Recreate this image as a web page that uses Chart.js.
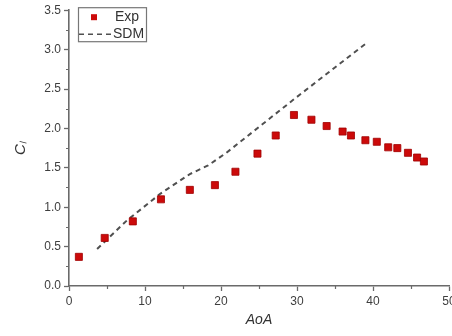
<!DOCTYPE html>
<html>
<head>
<meta charset="utf-8">
<script src="https://cdn.jsdelivr.net/npm/chart.js@4/dist/chart.umd.min.js"></script>
<style>
  html, body { margin: 0; padding: 0; overflow: hidden; background: #fff; }
  #wrap { position: relative; width: 460px; height: 336px; }
</style>
</head>
<body>
<div id="wrap"><canvas id="c"></canvas></div>
<script>
// ---- data ----
const expAoA = [1.3, 4.7, 8.4, 12.1, 15.9, 19.2, 21.9, 24.8, 27.2, 29.6, 31.9, 33.9, 36.0, 37.1, 39.0, 40.5, 42.0, 43.2, 44.6, 45.8, 46.7];
const expCl  = [0.37, 0.61, 0.82, 1.10, 1.22, 1.28, 1.45, 1.68, 1.91, 2.17, 2.11, 2.03, 1.96, 1.91, 1.85, 1.83, 1.76, 1.75, 1.69, 1.63, 1.58];
const sdmAoA = [3.7, 7.6, 12.0, 15.9, 18.3, 20.7, 29.6, 39.1];
const sdmCl  = [0.47, 0.83, 1.17, 1.42, 1.53, 1.69, 2.37, 3.08];
const xTicks = [0, 10, 20, 30, 40, 50];
const yTicks = [0.0, 0.5, 1.0, 1.5, 2.0, 2.5, 3.0, 3.5];
const seriesNames = ['Exp', 'SDM'];
const xTitle = 'AoA';
const yTitle = 'C\u2097';

const axisColor = '#6a6a6a';
const labelColor = '#3e3e3e';
const font = 'Liberation Sans, Arial, sans-serif';

const minorTicks = {
  id: 'minorTicks',
  afterDraw(chart) {
    const ctx = chart.ctx;
    const xs = chart.scales.x, ys = chart.scales.y;
    ctx.save();
    ctx.strokeStyle = axisColor;
    ctx.lineWidth = 1.2;
    ctx.beginPath();
    for (let v = xs.min + 5; v < xs.max; v += 10) {
      const px = Math.round(xs.getPixelForValue(v)) + 0.5;
      ctx.moveTo(px, xs.top);
      ctx.lineTo(px, xs.top + 3);
    }
    for (let v = ys.min + 0.25; v < ys.max; v += 0.5) {
      const py = Math.round(ys.getPixelForValue(v)) + 0.5;
      ctx.moveTo(ys.right, py);
      ctx.lineTo(ys.right - 3, py);
    }
    ctx.stroke();
    ctx.restore();
  }
};

const boxLegend = {
  id: 'boxLegend',
  afterDraw(chart) {
    const ctx = chart.ctx;
    const a = chart.chartArea;
    const L = a.left + 9, T = a.top - 3, W = 68, H = 34;
    const ds = chart.data.datasets;
    ctx.save();
    ctx.strokeStyle = '#777';
    ctx.lineWidth = 1.2;
    ctx.strokeRect(L + 0.5, T + 0.5, W, H);
    ctx.font = '14px ' + font;
    ctx.textBaseline = 'middle';
    // Exp
    const y1 = T + 10;
    ctx.fillStyle = ds[0].backgroundColor;
    ctx.fillRect(L + 13, y1 - 3, 6, 6);
    ctx.fillStyle = '#333';
    ctx.fillText(ds[0].label, L + 37, y1);
    // SDM
    const y2 = T + 27;
    ctx.strokeStyle = ds[1].borderColor;
    ctx.lineWidth = 1.5;
    ctx.setLineDash([5, 4]);
    ctx.beginPath();
    ctx.moveTo(L + 1, y2);
    ctx.lineTo(L + 33, y2);
    ctx.stroke();
    ctx.setLineDash([]);
    ctx.fillText(ds[1].label, L + 35, y2);
    ctx.restore();
  }
};

new Chart(document.getElementById('c'), {
  type: 'scatter',
  data: {
    datasets: [
      {
        label: seriesNames[0],
        data: expAoA.map((x, i) => ({ x: x, y: expCl[i] })),
        pointStyle: 'rect',
        pointRadius: 5,
        backgroundColor: '#cc0a0a',
        borderColor: '#a00000',
        borderWidth: 0.8,
        showLine: false,
        order: 0
      },
      {
        label: seriesNames[1],
        data: sdmAoA.map((x, i) => ({ x: x, y: sdmCl[i] })),
        showLine: true,
        pointRadius: 0,
        borderColor: '#505050',
        borderWidth: 2,
        borderDash: [5, 4],
        tension: 0,
        fill: false,
        order: 1
      }
    ]
  },
  options: {
    responsive: true,
    maintainAspectRatio: false,
    animation: false,
    devicePixelRatio: 1,
    layout: { padding: { left: 0, top: 8, right: 11, bottom: 0 } },
    plugins: {
      legend: { display: false },
      tooltip: { enabled: false }
    },
    scales: {
      x: {
        type: 'linear',
        min: 0, max: 50,
        afterFit(s) { s.height = 50; },
        afterBuildTicks(s) { s.ticks = xTicks.map(v => ({ value: v })); },
        border: { display: true, color: axisColor, width: 1.6 },
        grid: { drawOnChartArea: false, drawTicks: true, tickLength: 5, color: axisColor, tickColor: axisColor, tickWidth: 1.3 },
        ticks: {
          padding: 3,
          color: labelColor,
          font: { family: font, size: 12 },
          maxRotation: 0,
          autoSkip: false,
          callback: v => String(v)
        },
        title: {
          display: true,
          text: xTitle,
          color: '#333',
          font: { family: font, size: 14, style: 'italic' },
          padding: { top: 7, bottom: 7 }
        }
      },
      y: {
        type: 'linear',
        min: 0, max: 3.5,
        afterFit(s) { s.width = 69; },
        afterBuildTicks(s) { s.ticks = yTicks.map(v => ({ value: v })); },
        border: { display: true, color: axisColor, width: 1.6 },
        grid: { drawOnChartArea: false, drawTicks: true, tickLength: 5, color: axisColor, tickColor: axisColor, tickWidth: 1.3 },
        ticks: {
          padding: 3,
          color: labelColor,
          font: { family: font, size: 12 },
          autoSkip: false,
          callback: v => Number(v).toFixed(1)
        },
        title: {
          display: true,
          text: yTitle,
          color: '#333',
          font: { family: font, size: 15, style: 'italic' },
          padding: { top: 12, bottom: 12 }
        }
      }
    }
  },
  plugins: [minorTicks, boxLegend]
});
</script>
</body>
</html>
